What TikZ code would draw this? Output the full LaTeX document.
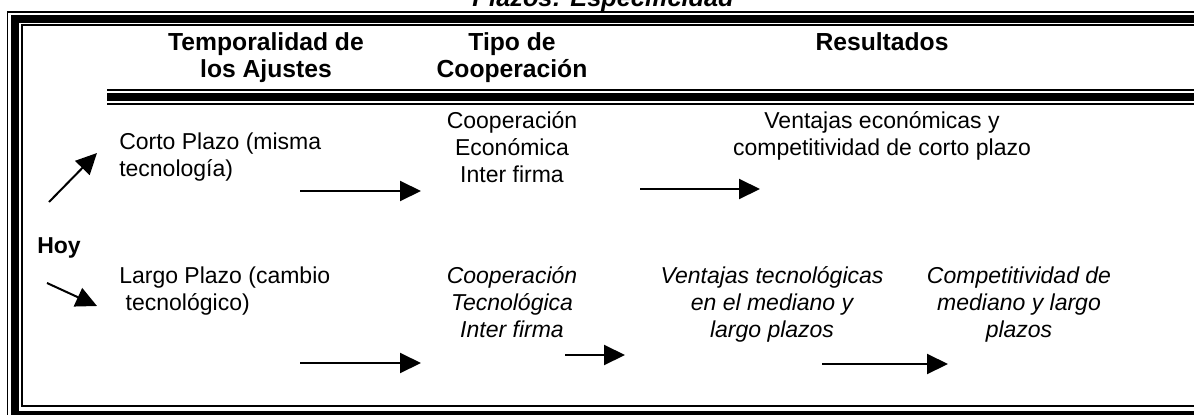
\documentclass[tikz,border=0pt]{standalone}
\usepackage{fontspec}
\setmainfont{Liberation Sans}
\usetikzlibrary{arrows.meta}
\begin{document}
\begin{tikzpicture}[x=0.75pt,y=-0.75pt,
  txt/.style={inner sep=0pt,font=\fontsize{17.25}{20.25}\selectfont},
  hdr/.style={txt,font=\fontsize{18.5}{20.25}\selectfont\bfseries,align=center,anchor=north},
  col/.style={txt,align=center,anchor=north},
  lft/.style={txt,align=left,anchor=north west},
  ital/.style={col,font=\fontsize{17.25}{20.25}\selectfont\itshape},
  arr/.style={line width=1.5pt,-{Triangle[length=15.75pt,width=15pt]}},
  thinrule/.style={line width=1.5pt},
  thickrule/.style={line width=6pt}]
\useasboundingbox (0,0) rectangle (1194,414);
% frame
\draw[line width=1.2pt] (7.5,12) rectangle (1260,421);
\draw[thickrule] (14.5,19) rectangle (1260,414.5);
\draw[thinrule] (22,25) rectangle (1260,406);
% header rule
\draw[thinrule] (107,90) -- (1260,90);
\draw[thickrule] (107,97) -- (1260,97);
\draw[thinrule] (107,104) -- (1260,104);
% title
\node[txt,anchor=base,font=\fontsize{19}{22}\selectfont\bfseries\itshape] (title) at (603,6.5) {Plazos: Especificidad};
% headers
\node[hdr] (h1) at (266,31.1) {\strut Temporalidad de\\los Ajustes};
\node[hdr] (h2) at (512,31.1) {\strut Tipo de\\Cooperación};
\node[hdr] (h3) at (882,31.1) {\strut Resultados};
% left
\node[txt,anchor=base west,font=\fontsize{17.25}{20.25}\selectfont\bfseries] (hoy) at (37,253) {Hoy};
\node[lft] (corto) at (119,130.1) {\strut Corto Plazo (misma\\tecnología)};
\node[lft] (largo) at (119,264.1) {\strut Largo Plazo (cambio\\\hspace{0.28em}tecnológico)};
% row 1
\node[col] (coopE) at (512,109.1) {\strut Cooperación\\Económica\\Inter firma};
\node[col] (ventE) at (882,109.1) {\strut Ventajas económicas y\\competitividad de corto plazo};
% row 2
\node[ital] (coopT) at (512,264.1) {\strut Cooperación\\Tecnológica\\Inter firma};
\node[ital] (ventT) at (772,264.1) {\strut Ventajas tecnológicas\\en el mediano y\\largo plazos};
\node[ital] (compT) at (1019,264.1) {\strut Competitividad de\\mediano y largo\\plazos};
% arrow end points
\coordinate (u0) at (49,202); \coordinate (u1) at (97,153);
\coordinate (d0) at (47,283); \coordinate (d1) at (97,306);
\coordinate (a0) at (300,191); \coordinate (a1) at (421,191);
\coordinate (b0) at (640,189); \coordinate (b1) at (760,189);
\coordinate (c0) at (300,363); \coordinate (c1) at (421,363);
\coordinate (e0) at (565,355); \coordinate (e1) at (625,355);
\coordinate (f0) at (822,364); \coordinate (f1) at (948,364);
\draw[arr] (u0) -- (u1);
\draw[arr] (d0) -- (d1);
\draw[arr] (a0) -- (a1);
\draw[arr] (b0) -- (b1);
\draw[arr] (c0) -- (c1);
\draw[arr] (e0) -- (e1);
\draw[arr] (f0) -- (f1);
\end{tikzpicture}
\end{document}
